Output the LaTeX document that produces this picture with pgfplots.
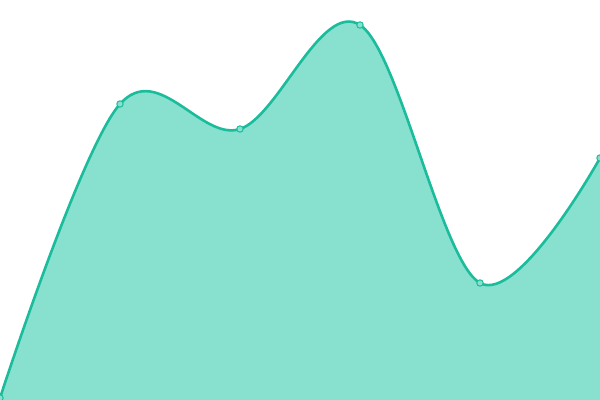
\documentclass[border=0pt]{standalone}
\usepackage{pgfplots}
\pgfplotsset{compat=1.18}
\definecolor{linecol}{HTML}{1ABC9C}
\definecolor{areacol}{HTML}{88E0CF}
\begin{document}
\begin{tikzpicture}
\begin{axis}[
  scale only axis,
  width=600bp, height=400bp,
  xmin=0, xmax=5, ymin=0, ymax=400,
  hide axis,
  clip marker paths=true,
]
\addplot[draw=none, fill=areacol, smooth, tension=0.58] coordinates {
  (0,2) (1,296) (2,271) (3,375) (4,117) (5,242)
} \closedcycle;
\addplot[draw=linecol, line width=2.6bp, smooth, tension=0.58,
  mark=*, mark size=3.2bp, mark options={fill=areacol, draw=linecol, line width=1bp}] coordinates {
  (0,2) (1,296) (2,271) (3,375) (4,117) (5,242)
};
\end{axis}
\pgfresetboundingbox
\useasboundingbox (current axis.south west) rectangle (current axis.north east);
\end{tikzpicture}
\end{document}
